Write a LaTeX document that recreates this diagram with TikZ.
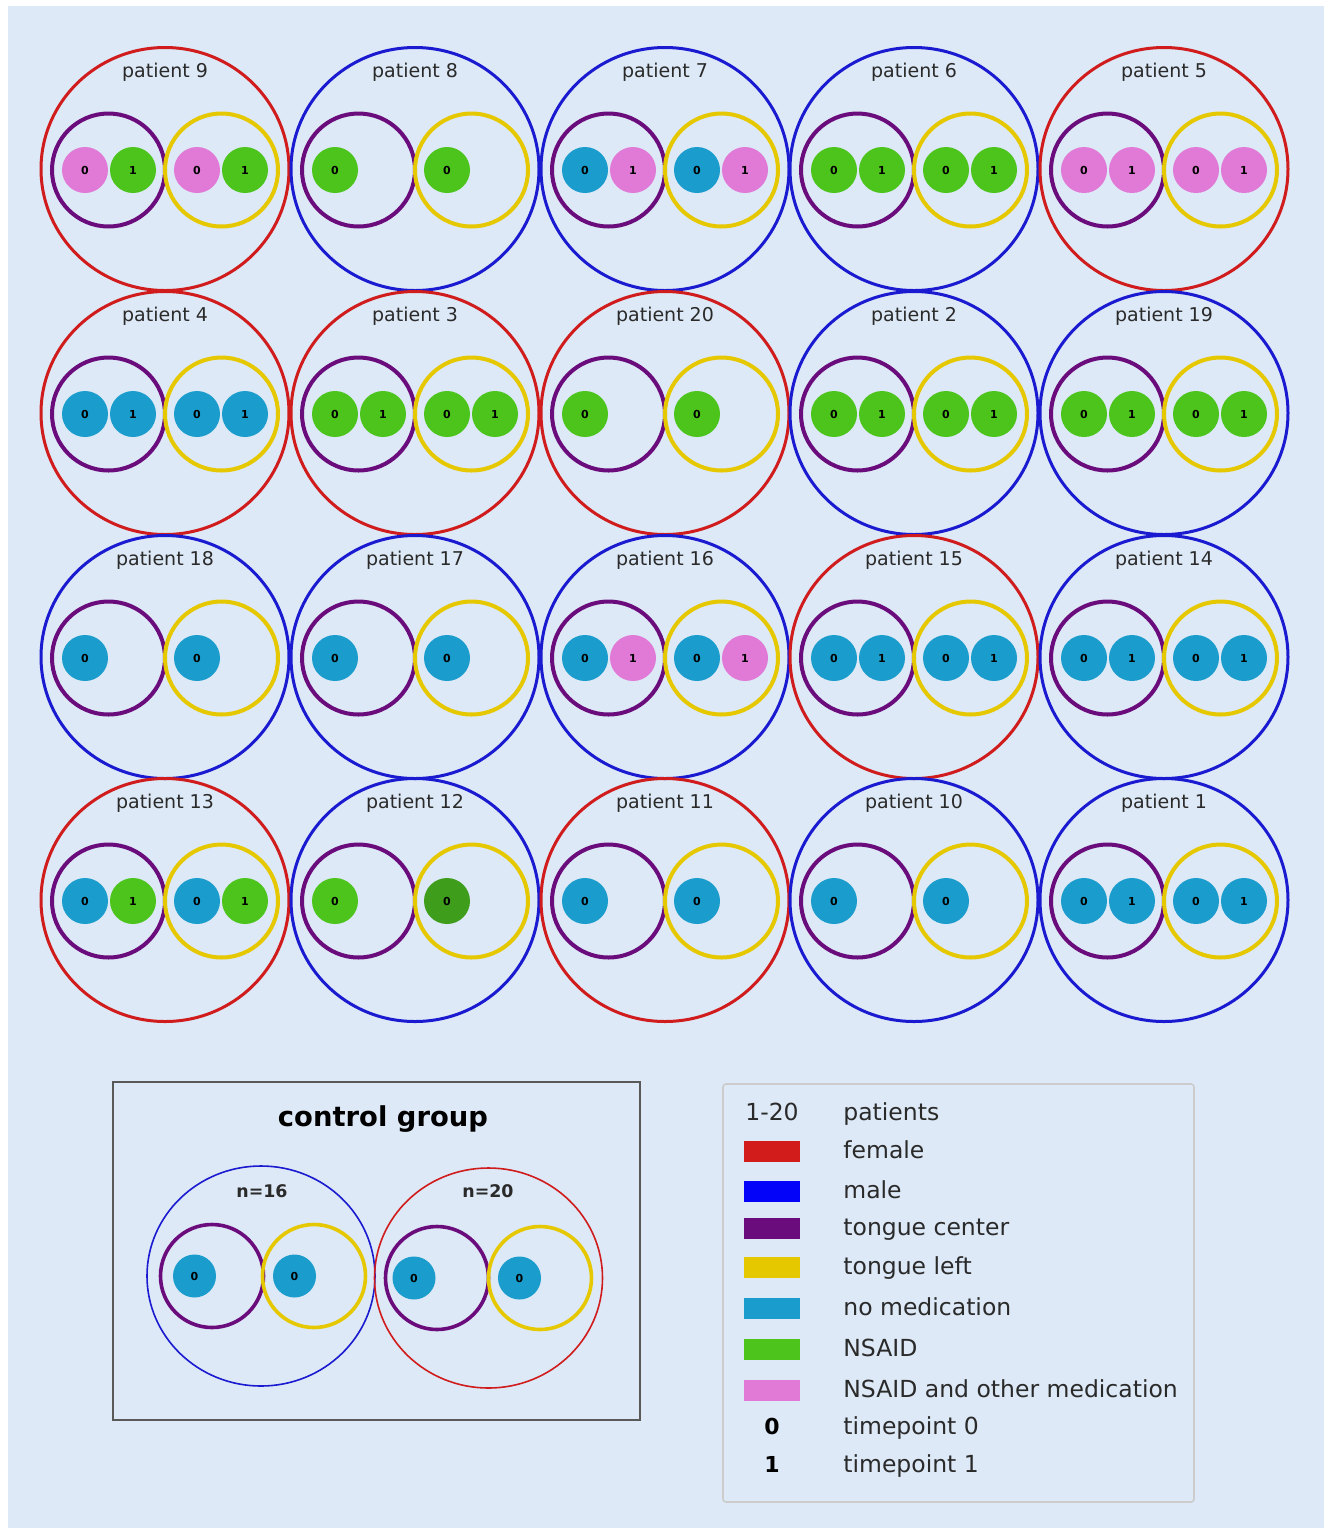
\documentclass[tikz,border=0pt]{standalone}
\usepackage{fontspec}
\setmainfont{DejaVu Sans}
\usetikzlibrary{shapes.geometric}

\definecolor{bgblue}{HTML}{DDE9F6}
\definecolor{fem}{HTML}{D01C1C}
\definecolor{mal}{HTML}{1A1AD0}
\definecolor{tcenter}{HTML}{6B0C7C}
\definecolor{tleft}{HTML}{E6C800}
\definecolor{nomed}{HTML}{1A9CCC}
\definecolor{nsaid}{HTML}{4CC41C}
\definecolor{nsaiddark}{HTML}{3E9E1C}
\definecolor{nsaidplus}{HTML}{E07AD6}
\definecolor{txt}{HTML}{2A2A2A}

\def\nodot{none}
% #1 x, #2 y, #3 number, #4 sex, #5/#6 tongue center dots, #7/#8 tongue left dots
\newcommand{\patient}[8]{%
  \node[pcircle, draw=#4] (p#3) at (#1,#2) {};
  \node[ptext] (p#3t) at (#1,#2-97) {patient #3};
  \node[ring, draw=tcenter] (p#3c) at (#1-56.5,#2+1) {};
  \node[ring, draw=tleft] (p#3l) at (#1+56.5,#2+1) {};
  \node[tdot, fill=#5] (p#3c0) at (#1-80,#2+1) {0};
  \node[tdot, fill=#7] (p#3l0) at (#1+32,#2+1) {0};
  \def\argtmp{#6}\ifx\argtmp\nodot\else
    \node[tdot, fill=#6] (p#3c1) at (#1-32,#2+1) {1};\fi
  \def\argtmp{#8}\ifx\argtmp\nodot\else
    \node[tdot, fill=#8] (p#3l1) at (#1+80,#2+1) {1};\fi
}

\begin{document}
\begin{tikzpicture}[x=0.5pt, y=-0.5pt,
  pcircle/.style={ellipse, line width=1.5pt, minimum width=124pt, minimum height=121.5pt, inner sep=0pt},
  ctrlcircle/.style={ellipse, line width=0.8pt, minimum width=114pt, minimum height=110pt, inner sep=0pt},
  ring/.style={circle, line width=2pt, minimum size=56.5pt, inner sep=0pt},
  cring/.style={circle, line width=1.8pt, minimum size=51.5pt, inner sep=0pt},
  tdot/.style={circle, minimum size=23pt, inner sep=0pt, font=\fontsize{5.5}{6}\selectfont\bfseries},
  cdot/.style={circle, minimum size=21.5pt, inner sep=0pt, fill=nomed, font=\fontsize{5.5}{6}\selectfont\bfseries},
  ptext/.style={text=txt, inner sep=0pt, font=\fontsize{9.5}{11}\selectfont},
  swatch/.style={rectangle, minimum width=28pt, minimum height=10.5pt, inner sep=0pt},
  legtext/.style={anchor=west, inner sep=0pt, yshift=-1.2pt, text=txt, text height=0.75em, text depth=0.2em, font=\fontsize{11.75}{14}\selectfont},
  legkey/.style={inner sep=0pt, yshift=-1.2pt, text=txt, text height=0.75em, text depth=0.2em, font=\fontsize{11.75}{14}\selectfont}]

  \useasboundingbox (0,0) rectangle (1324,1528);
  \fill[white] (0,0) rectangle (1324,1528);
  \fill[bgblue] (8,6) rectangle (1324,1528);

  % patients, row by row
  \patient{165}{169}{9}{fem}{nsaidplus}{nsaid}{nsaidplus}{nsaid}
  \patient{415}{169}{8}{mal}{nsaid}{none}{nsaid}{none}
  \patient{665}{169}{7}{mal}{nomed}{nsaidplus}{nomed}{nsaidplus}
  \patient{914}{169}{6}{mal}{nsaid}{nsaid}{nsaid}{nsaid}
  \patient{1164}{169}{5}{fem}{nsaidplus}{nsaidplus}{nsaidplus}{nsaidplus}

  \patient{165}{413}{4}{fem}{nomed}{nomed}{nomed}{nomed}
  \patient{415}{413}{3}{fem}{nsaid}{nsaid}{nsaid}{nsaid}
  \patient{665}{413}{20}{fem}{nsaid}{none}{nsaid}{none}
  \patient{914}{413}{2}{mal}{nsaid}{nsaid}{nsaid}{nsaid}
  \patient{1164}{413}{19}{mal}{nsaid}{nsaid}{nsaid}{nsaid}

  \patient{165}{657}{18}{mal}{nomed}{none}{nomed}{none}
  \patient{415}{657}{17}{mal}{nomed}{none}{nomed}{none}
  \patient{665}{657}{16}{mal}{nomed}{nsaidplus}{nomed}{nsaidplus}
  \patient{914}{657}{15}{fem}{nomed}{nomed}{nomed}{nomed}
  \patient{1164}{657}{14}{mal}{nomed}{nomed}{nomed}{nomed}

  \patient{165}{900}{13}{fem}{nomed}{nsaid}{nomed}{nsaid}
  \patient{415}{900}{12}{mal}{nsaid}{none}{nsaiddark}{none}
  \patient{665}{900}{11}{fem}{nomed}{none}{nomed}{none}
  \patient{914}{900}{10}{mal}{nomed}{none}{nomed}{none}
  \patient{1164}{900}{1}{mal}{nomed}{nomed}{nomed}{nomed}

  % control group
  \node[draw=black!65, line width=1pt, minimum width=263.5pt, minimum height=169pt, inner sep=0pt] (ctrl) at (376.5,1251) {};
  \node[text=black, font=\fontsize{13.7}{16}\selectfont\bfseries] (ctrlt) at (383,1119.5) {control group};
  \node[ctrlcircle, draw=mal] (c16) at (261,1276) {};
  \node[ptext, font=\fontsize{8.7}{10}\selectfont\bfseries] (c16t) at (262,1191) {n=16};
  \node[cring, draw=tcenter] (c16c) at (212,1276) {};
  \node[cring, draw=tleft] (c16l) at (314,1276) {};
  \node[cdot] (c16c0) at (194.5,1276) {0};
  \node[cdot] (c16l0) at (294.5,1276) {0};
  \node[ctrlcircle, draw=fem] (c20) at (488.5,1278) {};
  \node[ptext, font=\fontsize{8.7}{10}\selectfont\bfseries] (c20t) at (488,1191) {n=20};
  \node[cring, draw=tcenter] (c20c) at (437,1278) {};
  \node[cring, draw=tleft] (c20l) at (540,1278) {};
  \node[cdot] (c20c0) at (414,1278) {0};
  \node[cdot] (c20l0) at (519.5,1278) {0};

  % legend
  \node[draw=black!20, line width=0.8pt, rounded corners=1.5pt, minimum width=235.5pt, minimum height=209pt, inner sep=0pt] (leg) at (958.5,1293) {};
  \node[legkey] (k1) at (772,1113) {1-20};
  \node[legtext] (l1) at (843,1113) {patients};
  \node[swatch, fill=fem!95!red] (k2) at (772,1151) {};
  \node[legtext] (l2) at (843,1151) {female};
  \node[swatch, fill=blue!90!mal] (k3) at (772,1191) {};
  \node[legtext] (l3) at (843,1191) {male};
  \node[swatch, fill=tcenter] (k4) at (772,1228) {};
  \node[legtext] (l4) at (843,1228) {tongue center};
  \node[swatch, fill=tleft] (k5) at (772,1267) {};
  \node[legtext] (l5) at (843,1267) {tongue left};
  \node[swatch, fill=nomed] (k6) at (772,1308) {};
  \node[legtext] (l6) at (843,1308) {no medication};
  \node[swatch, fill=nsaid] (k7) at (772,1349) {};
  \node[legtext] (l7) at (843,1349) {NSAID};
  \node[swatch, fill=nsaidplus] (k8) at (772,1390) {};
  \node[legtext] (l8) at (843,1390) {NSAID and other medication};
  \node[legkey, font=\fontsize{11}{13}\selectfont\bfseries, text=black] (k9) at (772,1427) {0};
  \node[legtext] (l9) at (843,1427) {timepoint 0};
  \node[legkey, font=\fontsize{11}{13}\selectfont\bfseries, text=black] (k10) at (772,1465) {1};
  \node[legtext] (l10) at (843,1465) {timepoint 1};
\end{tikzpicture}
\end{document}
